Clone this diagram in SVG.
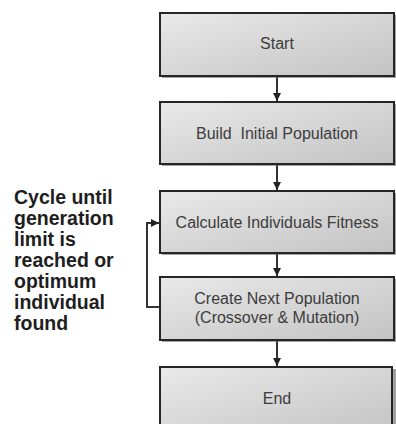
<svg xmlns="http://www.w3.org/2000/svg" width="396" height="424" viewBox="0 0 396 424">
  <defs>
    <linearGradient id="boxFill" x1="0" y1="0" x2="1" y2="1">
      <stop offset="0" stop-color="#e9e9e9"/>
      <stop offset="1" stop-color="#c3c3c3"/>
    </linearGradient>
    <marker id="arrow" viewBox="0 0 8 8" refX="8" refY="4" markerWidth="4" markerHeight="4" orient="auto" markerUnits="strokeWidth">
      <path d="M0,0 L8,4 L0,8 Z" fill="#222"/>
    </marker>
    <style>
      .box { fill: url(#boxFill); stroke: #262626; stroke-width: 2; }
      .shadow { fill: #555; opacity: 0.55; }
      .label { font-family: "Liberation Sans", Arial, sans-serif; font-size: 16px; fill: #3c3c3c; text-anchor: middle; white-space: pre; }
      .note { font-family: "Liberation Sans", Arial, sans-serif; font-size: 19.5px; font-weight: bold; fill: #1e1e1e; }
      .conn { fill: none; stroke: #333; stroke-width: 2; }
    </style>
  </defs>
  <rect width="396" height="424" fill="#fff"/>

  <g id="connectors">
    <line class="conn" x1="277" y1="77" x2="277" y2="101" marker-end="url(#arrow)"/>
    <line class="conn" x1="277" y1="165" x2="277" y2="190" marker-end="url(#arrow)"/>
    <line class="conn" x1="277" y1="254" x2="277" y2="276" marker-end="url(#arrow)"/>
    <line class="conn" x1="277" y1="341" x2="277" y2="366" marker-end="url(#arrow)"/>
    <polyline class="conn" points="160,307 147,307 147,223 159,223" marker-end="url(#arrow)"/>
  </g>

  <g id="start">
    <rect class="shadow" x="162" y="15" width="234" height="63"/>
    <rect class="box" x="160" y="13" width="234" height="63"/>
    <text class="label" x="277" y="49">Start</text>
  </g>

  <g id="build">
    <rect class="shadow" x="162" y="104" width="234" height="62"/>
    <rect class="box" x="160" y="102" width="234" height="62"/>
    <text class="label" x="277" y="139" xml:space="preserve">Build  Initial Population</text>
  </g>

  <g id="fitness">
    <rect class="shadow" x="162" y="193" width="234" height="62"/>
    <rect class="box" x="160" y="191" width="234" height="62"/>
    <text class="label" x="277" y="228">Calculate Individuals Fitness</text>
  </g>

  <g id="next-population">
    <rect class="shadow" x="162" y="279" width="234" height="63"/>
    <rect class="box" x="160" y="277" width="234" height="63"/>
    <text class="label" x="277" y="304">Create Next Population</text>
    <text class="label" x="277" y="323">(Crossover &amp; Mutation)</text>
  </g>

  <g id="end">
    <rect class="shadow" x="162" y="369" width="234" height="70"/>
    <rect class="box" x="160" y="367" width="232" height="70"/>
    <text class="label" x="277" y="404">End</text>
  </g>

  <g id="cycle-note">
    <text class="note" x="14" y="204">Cycle until</text>
    <text class="note" x="14" y="225">generation</text>
    <text class="note" x="14" y="246">limit is</text>
    <text class="note" x="14" y="267">reached or</text>
    <text class="note" x="14" y="288">optimum</text>
    <text class="note" x="14" y="309">individual</text>
    <text class="note" x="14" y="330">found</text>
  </g>
</svg>
